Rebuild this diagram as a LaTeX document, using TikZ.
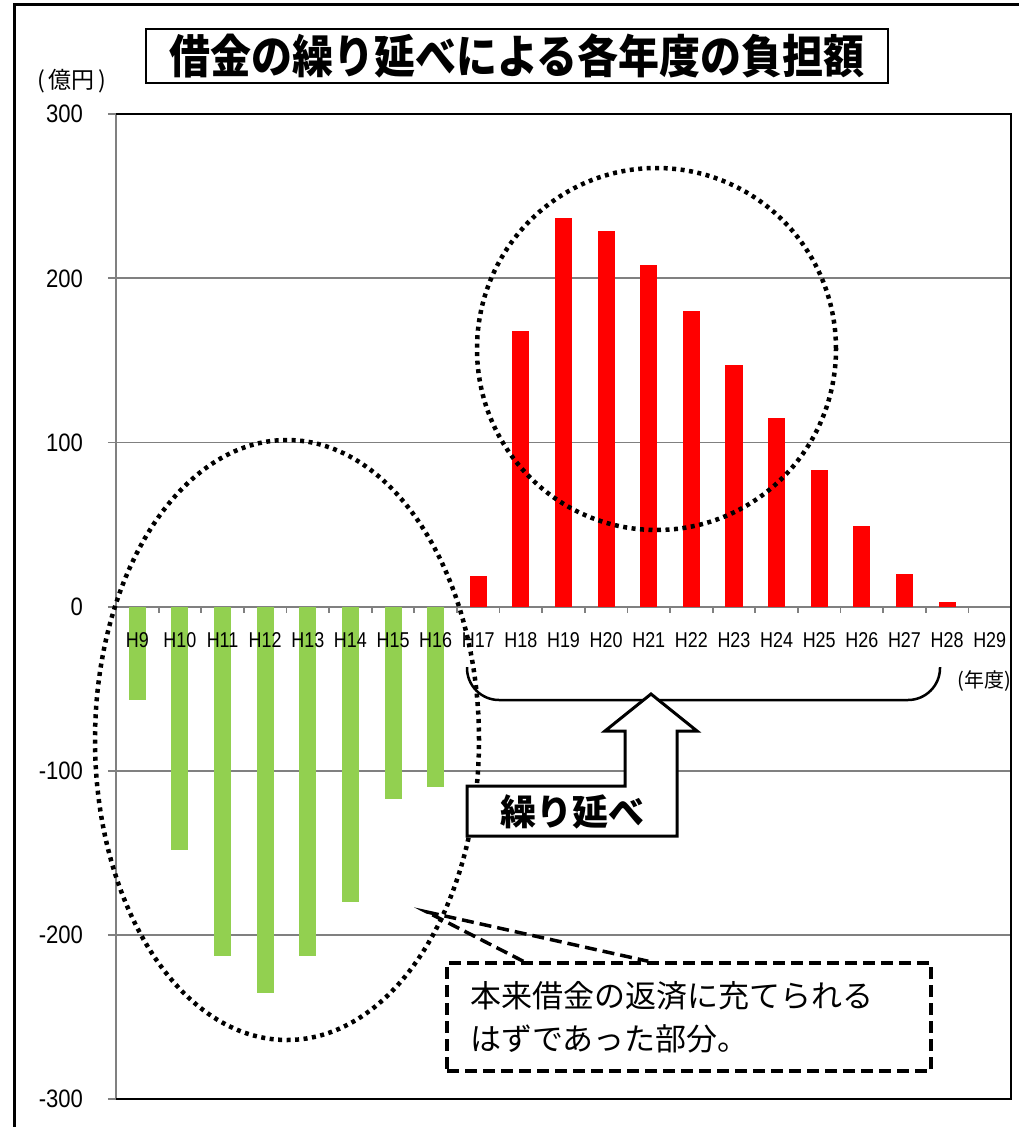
\documentclass[tikz,border=0pt]{standalone}
\usepackage{fontspec}
\setmainfont{Liberation Sans}
\newfontfamily\jp{Noto Sans CJK JP}
\usetikzlibrary{positioning}
\definecolor{barGreen}{RGB}{146,208,80}
\definecolor{barRed}{RGB}{255,0,0}
\definecolor{gridGray}{RGB}{128,128,128}

\begin{document}
\begin{tikzpicture}[x=1pt,y=-1pt,
  gridline/.style={draw=gridGray,line width=1.8pt},
  dotline/.style={line width=4.5pt,dash pattern=on 4pt off 4.5pt},
  dashline/.style={line width=3.5pt,dash pattern=on 12pt off 6pt},
  catlabel/.style={font=\fontsize{19.5}{20}\selectfont,inner sep=0pt},
  vallabel/.style={font=\fontsize{24}{25}\selectfont,anchor=east,inner sep=0pt}]
\useasboundingbox (0,0) rectangle (1019,1127);
\fill[white] (0,0) rectangle (1019,1127);
\draw[line width=3pt] (14,1140) -- (14,4) -- (1040,4);

% chart: x = year slot, y = value in oku yen
\begin{scope}[shift={(116,606.7)},x=42.62pt,y=1.6417pt]
\foreach \v in {-300,-200,...,300}
  \draw[gridline] (-0.19,\v) -- (21,\v);
\draw[gridline] (0,-300) -- (0,300);
\draw[line width=2pt] (0,300) -- (21,300) -- (21,-300) -- (0,-300);
\foreach \k in {1,...,20}
  \draw[gridline] (\k,0) -- (\k,-4);
\foreach \v [count=\k from 0] in {-57,-148,-213,-235,-213,-180,-117,-110}
  \fill[barGreen] (\k+0.3,0) rectangle (\k+0.7,\v);
\foreach \v [count=\k from 8] in {19,168,237,229,208,180,147,115,83,49,20,3}
  \fill[barRed] (\k+0.3,0) rectangle (\k+0.7,\v);
\foreach \n [count=\k from 0] in {9,...,29}
  \node[catlabel] (h\n) at (\k+0.5,-20.5) {\scalebox{0.92}[1.1]{H\n}};
\foreach \v in {-300,-200,...,300}
  \node[vallabel] (y\v) at (-0.77,\v) {\scalebox{0.92}[1.05]{\v}};
\end{scope}

\node[draw,line width=2.5pt,minimum width=742pt,minimum height=54pt,inner sep=0pt,
  font=\jp\bfseries\fontsize{41}{41}\selectfont] (title) at (517,56)
  {\scalebox{1}[1.12]{借金の繰り延べによる各年度の負担額}};
\node[font=\jp\fontsize{23}{24}\selectfont] (unit) at (72,81) {(\,億円\,)};
\node[font=\jp\fontsize{20}{22}\selectfont] (yearunit) at (984,681) {(年度)};

% circled groups
\draw[dotline] (287,740) ellipse [x radius=192pt,y radius=300pt];
\draw[dotline] (656.5,349) ellipse [x radius=179.5pt,y radius=181pt];

% brace under the later years
\draw[line width=2.5pt,rounded corners=32pt] (467,667) |- (940,700) -- (940,667);

% block arrow
\draw[line width=3pt,fill=white] (651,694) -- (697,731) -- (677,731) -- (677,836)
  -- (467,836) -- (467,786) -- (625,786) -- (625,731) -- (605,731) -- cycle;
\node[font=\jp\bfseries\fontsize{36}{36}\selectfont] (delay) at (572,812) {繰り延べ};

% callout
\node[draw,dashline,fill=white,minimum width=484pt,minimum height=108pt,text width=438pt,
  inner xsep=23pt,align=left,font=\jp\fontsize{31}{43}\selectfont] (note) at (689,1017)
  {本来借金の返済に充てられる\\はずであった部分。};
\coordinate (noteTip) at (427,912);
\draw[dashline] ([xshift=78pt]note.north west) -- (noteTip) -- ([xshift=203pt]note.north west);
\end{tikzpicture}
\end{document}
